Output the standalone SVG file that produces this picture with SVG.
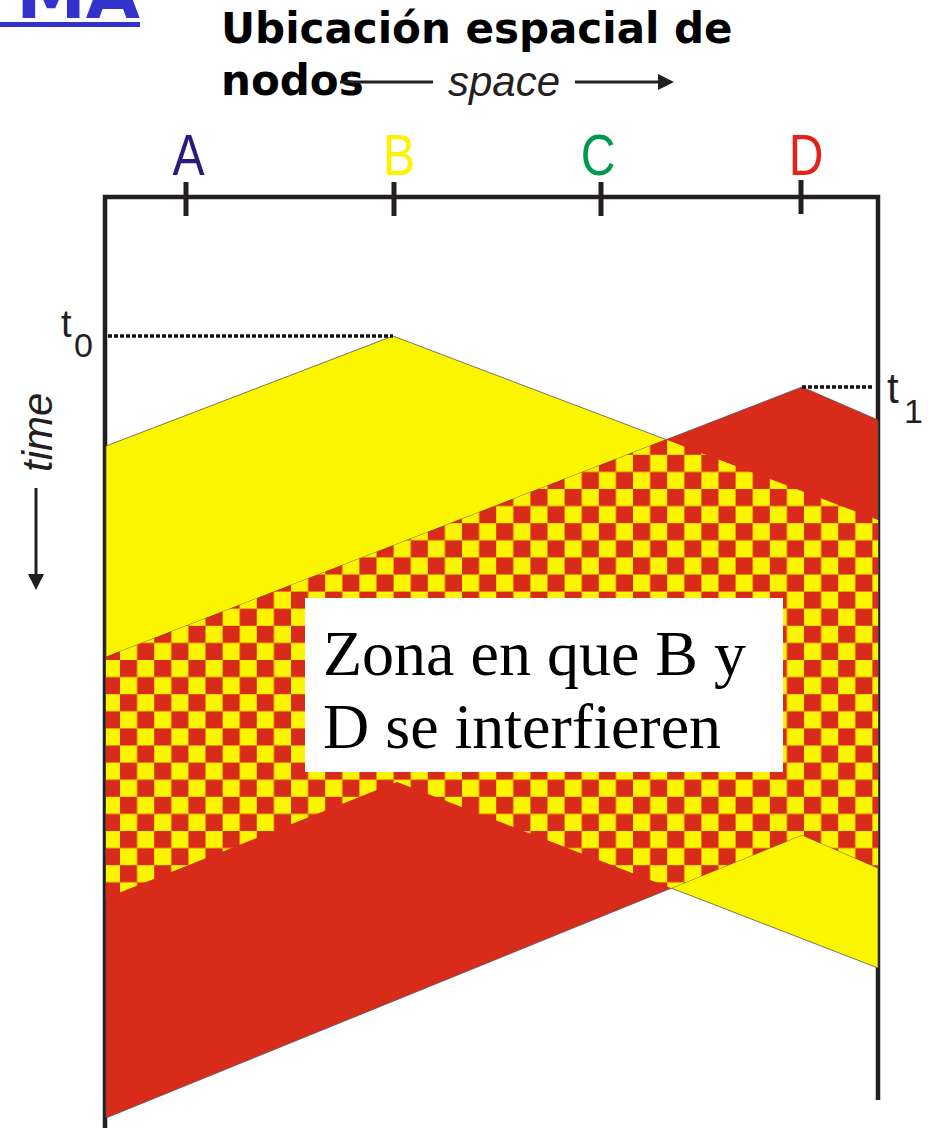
<svg xmlns="http://www.w3.org/2000/svg" width="928" height="1131" viewBox="0 0 928 1131">
<style>
.frame{stroke:#231f20;stroke-width:4.5;fill:none}
.tick{stroke:#231f20;stroke-width:5;fill:none}
.lbl{font-family:"Liberation Sans",Arial,sans-serif;font-size:58px;text-anchor:middle}
.dot{stroke:#111;stroke-width:3.5;stroke-dasharray:4 2;fill:none}
.tsym{font-family:"Liberation Sans",Arial,sans-serif;fill:#231f20}
.axis{font-family:"Liberation Sans",Arial,sans-serif;font-style:italic;font-size:42px;fill:#231f20}
.arr{stroke:#231f20;stroke-width:3;fill:none}
.edge{stroke:#555;stroke-width:0.8}
</style>
<defs>
<pattern id="checker" patternUnits="userSpaceOnUse" x="120" y="660" width="34.2" height="34.2">
<rect width="34.2" height="34.2" fill="#fcf500"/>
<rect x="0" y="0" width="17.1" height="17.1" fill="#d92b1a"/>
<rect x="17.1" y="17.1" width="17.1" height="17.1" fill="#d92b1a"/>
</pattern>
<clipPath id="clipB"><polygon points="106,446 393,336 878,520 878,968 397,782 106,898"/></clipPath>
</defs>

<g id="title-link">
<text x="140" y="18" text-anchor="end" font-family="DejaVu Sans,sans-serif" font-weight="bold" font-size="70" fill="#3333cc">MA</text>
<rect x="0" y="22" width="140" height="5" fill="#3333cc"/>
</g>

<g id="title">
<text font-family="DejaVu Sans,sans-serif" font-weight="bold" font-size="42" fill="#000"><tspan x="221" y="43">Ubicación espacial de</tspan><tspan x="221" y="95">nodos</tspan></text>
</g>

<g id="space-axis">
<line class="arr" x1="340" y1="82" x2="433" y2="82"/>
<text class="axis" x="448" y="96">space</text>
<line class="arr" x1="575" y1="82" x2="660" y2="82"/>
<polygon points="658,74 674,82 658,90" fill="#231f20"/>
</g>

<g id="time-axis">
<text class="axis" transform="translate(52,472) rotate(-90)">time</text>
<line class="arr" x1="36" y1="488" x2="36" y2="576"/>
<polygon points="28,574 44,574 36,590" fill="#231f20"/>
</g>

<g id="frame">
<polyline class="frame" points="105,1128 105,197 878,197 878,1100"/>
</g>

<g id="nodes">
<g id="node-A"><line class="tick" x1="186" y1="182" x2="186" y2="216"/><text class="lbl" fill="#2b1a7e" transform="translate(188.5,175) scale(0.83,1)">A</text></g>
<g id="node-B"><line class="tick" x1="394" y1="182" x2="394" y2="216"/><text class="lbl" fill="#fff200" transform="translate(399,175) scale(0.83,1)">B</text></g>
<g id="node-C"><line class="tick" x1="601" y1="182" x2="601" y2="216"/><text class="lbl" fill="#009a4e" transform="translate(598,175) scale(0.83,1)">C</text></g>
<g id="node-D"><line class="tick" x1="801" y1="180" x2="801" y2="214"/><text class="lbl" fill="#e2231a" transform="translate(806,175) scale(0.83,1)">D</text></g>
</g>

<g id="signals">
<polygon id="signal-B" class="edge" fill="#fcf500" points="106,446 393,336 878,520 878,968 397,782 106,898"/>
<polygon id="signal-D" class="edge" fill="#d92b1a" points="106,657 802,387 878,420 878,868 802,835 106,1118"/>
<g id="overlap" clip-path="url(#clipB)">
<polygon fill="url(#checker)" points="106,657 802,387 878,420 878,868 802,835 106,1118"/>
</g>
</g>

<g id="markers">
<line class="dot" x1="108" y1="336" x2="393" y2="336"/>
<text class="tsym" x="61" y="337" font-size="38">t</text>
<text class="tsym" x="74" y="357" font-size="34">0</text>
<line class="dot" x1="802" y1="387" x2="873" y2="387"/>
<text class="tsym" x="887" y="403" font-size="42">t</text>
<text class="tsym" x="904" y="423" font-size="34">1</text>
</g>

<g id="note">
<rect x="305" y="598" width="478" height="174" fill="#ffffff"/>
<text font-family="Liberation Serif,'Times New Roman',serif" font-size="64" fill="#000"><tspan x="323" y="675">Zona en que B y</tspan><tspan x="323" y="748">D se interfieren</tspan></text>
</g>
</svg>
